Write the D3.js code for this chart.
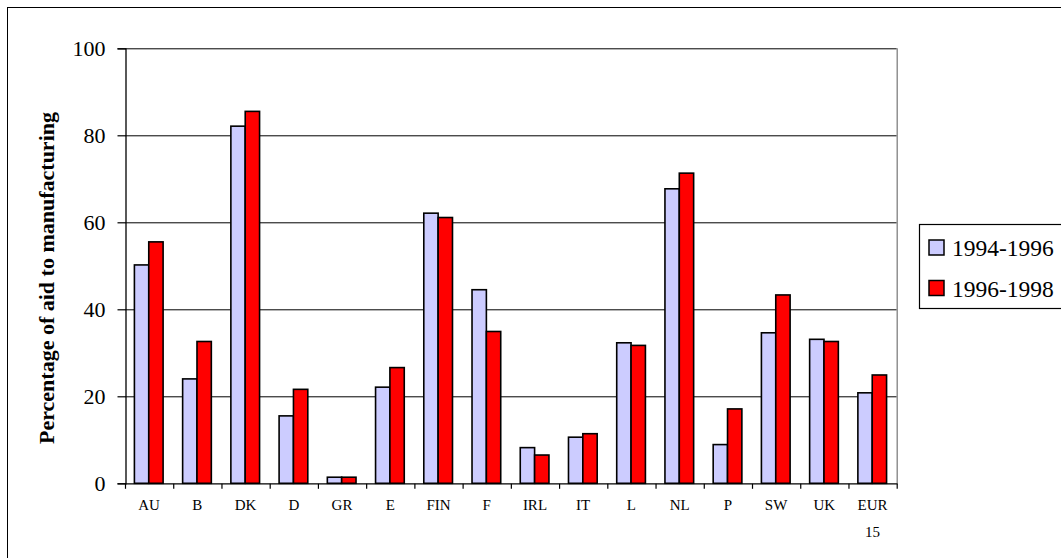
<!DOCTYPE html>
<html><head><meta charset="utf-8">
<script src="https://cdn.jsdelivr.net/npm/d3@7"></script>
<style>
html,body{margin:0;padding:0;background:#fff;}
svg{display:block;}
</style></head>
<body>
<svg id="c" width="1061" height="558"></svg>
<script>
const categories = ["AU","B","DK","D","GR","E","FIN","F","IRL","IT","L","NL","P","SW","UK","EUR 15"];
const seriesNames = ["1994-1996","1996-1998"];
const values1994_1996 = [50.2,24.0,82.1,15.5,1.4,22.1,62.1,44.5,8.2,10.6,32.3,67.7,8.9,34.6,33.1,20.8];
const values1996_1998 = [55.5,32.6,85.5,21.6,1.4,26.6,61.1,34.9,6.5,11.4,31.7,71.3,17.1,43.3,32.6,24.9];
const yTicks = [0,20,40,60,80,100];
const colors = ["#ccccff","#ff0000"];
const FONT = "'Liberation Serif','Times New Roman',Times,'DejaVu Serif',serif";

const svg = d3.select("#c");
svg.append("rect").attr("x",7.5).attr("y",7.5).attr("width",1100).attr("height",600)
  .attr("fill","none").attr("stroke","#000").attr("stroke-width",1);

const L=125, R=896.7, T=48.3, B=483.3;
const x0 = d3.scaleBand().domain(categories).range([L,R]).padding(0);
const bw = x0.bandwidth();
const x1 = d3.scaleBand().domain(seriesNames).range([bw*0.195, bw*0.79]).padding(0);
const y = d3.scaleLinear().domain([0,100]).range([B,T]);

svg.append("g").selectAll("line").data(yTicks.filter(d=>d>0)).join("line")
  .attr("x1",L).attr("x2",R).attr("y1",d=>y(d)+0.5).attr("y2",d=>y(d)+0.5)
  .attr("stroke","#000").attr("stroke-width",1);
svg.append("line").attr("x1",R+0.5).attr("x2",R+0.5).attr("y1",T).attr("y2",B)
  .attr("stroke","#808080").attr("stroke-width",1.3);

const rows = categories.map((c,i)=>({c, v:[values1994_1996[i], values1996_1998[i]]}));
const g = svg.append("g");
rows.forEach(r=>{
  r.v.forEach((v,j)=>{
    g.append("rect")
      .attr("x", x0(r.c)+x1(seriesNames[j]))
      .attr("y", y(v))
      .attr("width", x1.bandwidth())
      .attr("height", y(0)-y(v))
      .attr("fill", colors[j]).attr("stroke","#000").attr("stroke-width",1.6);
  });
});

const yAxis = d3.axisLeft(y).tickValues(yTicks).tickSize(8).tickPadding(12);
const ya = svg.append("g").attr("transform",`translate(${L+0.5},0)`).call(yAxis);
ya.attr("font-family",FONT).attr("font-size",22);
ya.select(".domain").attr("stroke","#000").attr("stroke-width",1.3);
ya.selectAll(".tick line").attr("stroke","#000").attr("stroke-width",1.2);
ya.selectAll(".tick text").attr("font-family",FONT).attr("font-size",22).attr("fill","#000");

const xa = svg.append("g").attr("transform",`translate(0,${B+0.5})`).attr("font-family",FONT);
xa.append("line").attr("x1",L).attr("x2",R+1).attr("y1",0).attr("y2",0).attr("stroke","#000").attr("stroke-width",1.3);
const bounds = categories.map(c=>x0(c)).concat([R]);
xa.selectAll("line.tk").data(bounds).join("line").attr("class","tk")
  .attr("x1",d=>d+0.5).attr("x2",d=>d+0.5).attr("y1",0).attr("y2",5).attr("stroke","#000").attr("stroke-width",1.2);
xa.selectAll("text.cl").data(categories).join("text").attr("class","cl")
  .attr("text-anchor","middle").attr("font-family",FONT).attr("font-size",15).attr("fill","#000")
  .attr("x",d=>x0(d)+bw/2).attr("y",26.5)
  .each(function(d){
    const parts = d.split(" ");
    const t = d3.select(this);
    parts.forEach((p,i)=>{
      t.append("tspan").attr("x",x0(d)+bw/2).attr("dy", i===0?0:27).text(p);
    });
  });

svg.append("text").attr("transform","translate(54,278) rotate(-90)")
  .attr("text-anchor","middle").attr("font-family",FONT).attr("font-size",22).attr("font-weight","bold").attr("fill","#000")
  .text("Percentage of aid to manufacturing");

const lg = svg.append("g").attr("font-family",FONT);
lg.append("rect").attr("x",919.5).attr("y",224.5).attr("width",200).attr("height",84)
  .attr("fill","#fff").attr("stroke","#000").attr("stroke-width",1.2);
seriesNames.forEach((s,i)=>{
  const yy = 240 + i*40.5;
  lg.append("rect").attr("x",929).attr("y",yy).attr("width",15).attr("height",15)
    .attr("fill",colors[i]).attr("stroke","#000").attr("stroke-width",1.5);
  lg.append("text").attr("x",952).attr("y",yy+16).attr("font-family",FONT).attr("font-size",23.5).attr("fill","#000").text(s);
});
</script>
</body></html>
